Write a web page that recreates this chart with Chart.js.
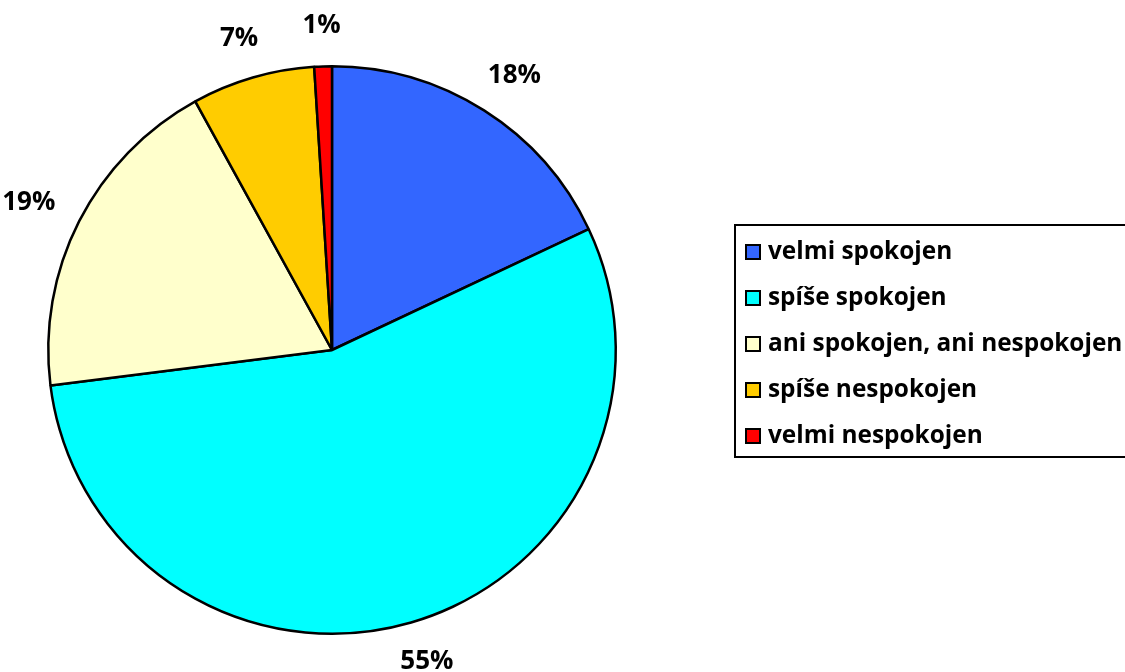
<!DOCTYPE html>
<html>
<head>
<meta charset="utf-8">
<script src="https://cdn.jsdelivr.net/npm/chart.js@4"></script>
<style>
html,body{margin:0;padding:0;background:#fff;}
#wrap{width:1125px;height:672px;position:relative;}
</style>
</head>
<body>
<div id="wrap"><canvas id="c" width="1125" height="672"></canvas></div>
<script>
const categories = ['velmi spokojen', 'spíše spokojen', 'ani spokojen, ani nespokojen', 'spíše nespokojen', 'velmi nespokojen'];
const values = [18, 55, 19, 7, 1];
const valueLabels = ['18%', '55%', '19%', '7%', '1%'];
const colors = ['#3366FF', '#00FFFF', '#FFFFCC', '#FFCC00', '#FF0000'];

const LABEL_FONT = 'bold 26px "Open Sans", sans-serif';
const LEGEND_FONT = 'bold 24.4px "Open Sans", sans-serif';

const overlay = {
  id: 'overlay',
  afterDraw(chart) {
    const ctx = chart.ctx;
    const meta = chart.getDatasetMeta(0);
    ctx.save();
    ctx.font = LABEL_FONT;
    ctx.fillStyle = '#000';
    ctx.textAlign = 'center';
    ctx.textBaseline = 'middle';
    meta.data.forEach((arc, i) => {
      const mid = (arc.startAngle + arc.endAngle) / 2;
      const dx = Math.cos(mid), dy = Math.sin(mid);
      const r = arc.outerRadius + 30;
      const w = ctx.measureText(valueLabels[i]).width;
      const h = 22;
      const x = arc.x + dx * r + dx * w / 2;
      const y = arc.y + dy * r + dy * h / 2;
      ctx.fillText(valueLabels[i], x, y);
    });
    // legend box
    const lx = 735, ly = 225, lw = 420, lh = 232;
    ctx.lineWidth = 2;
    ctx.strokeStyle = '#000';
    ctx.strokeRect(lx, ly, lw, lh);
    ctx.textAlign = 'left';
    ctx.font = LEGEND_FONT;
    categories.forEach((c, i) => {
      const cy = 252 + i * 46;
      ctx.fillStyle = colors[i];
      ctx.fillRect(746, cy - 7, 14, 14);
      ctx.lineWidth = 2;
      ctx.strokeRect(746, cy - 7, 14, 14);
      ctx.fillStyle = '#000';
      ctx.fillText(c, 768, cy);
    });
    ctx.restore();
  }
};

new Chart(document.getElementById('c'), {
  type: 'pie',
  data: {
    labels: categories,
    datasets: [{
      data: values,
      backgroundColor: colors,
      borderColor: '#000',
      borderWidth: 2.5
    }]
  },
  options: {
    responsive: false,
    animation: false,
    layout: { padding: { left: 47, right: 508, top: 65, bottom: 37 } },
    plugins: { legend: { display: false }, tooltip: { enabled: false } }
  },
  plugins: [overlay]
});
</script>
</body>
</html>
